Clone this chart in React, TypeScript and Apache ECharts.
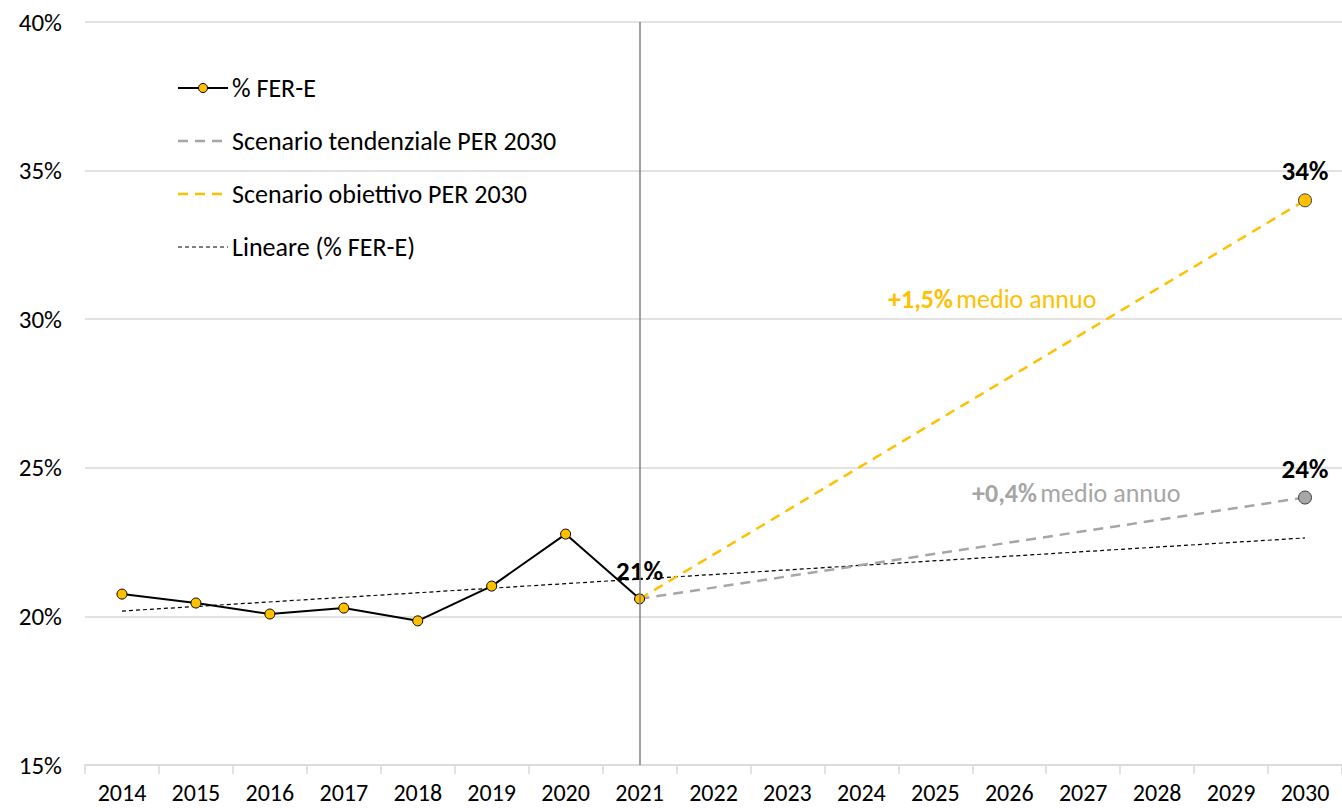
import React, { useEffect, useRef } from "react";
import * as echarts from "echarts";

const years = ["2014","2015","2016","2017","2018","2019","2020","2021","2022","2023","2024","2025","2026","2027","2028","2029","2030"];
const ferE = [20.75, 20.45, 20.08, 20.28, 19.85, 21.02, 22.77, 20.59];
const tendYears = ["2021", "2030"];
const tendValues = [20.59, 24.0];
const objYears = ["2021", "2030"];
const objValues = [20.59, 34.0];
const trendYears = ["2014", "2030"];
const trendValues = [20.18, 22.64];
const yTicks = { min: 15, max: 40, interval: 5 };
const legendNames = ["% FER-E", "Scenario tendenziale PER 2030", "Scenario obiettivo PER 2030", "Lineare (% FER-E)"];

const FONT = "Carlito, Lato, 'Noto Sans', sans-serif";
const YELLOW = "#FFC000";
const GRAY = "#A6A6A6";

export default function App() {
  const ref = useRef<HTMLDivElement>(null);
  useEffect(() => {
    document.body.style.margin = "0";
    const chart = echarts.init(ref.current!, null, { renderer: "svg" });
    const lastIdx = ferE.length - 1;
    const labelBold = { fontSize: 27, fontWeight: "bold", color: "#000", fontFamily: FONT };

    const legendStyles = [
      { stroke: "#000", lineWidth: 2, lineDash: null as any, marker: true },
      { stroke: GRAY, lineWidth: 2.5, lineDash: [10, 7], marker: false },
      { stroke: YELLOW, lineWidth: 2.5, lineDash: [10, 7], marker: false },
      { stroke: "#000", lineWidth: 1.2, lineDash: [4, 3], marker: false },
    ];
    const legendGraphics: any[] = [];
    legendNames.forEach((name, i) => {
      const y = 88 + i * 53;
      const s = legendStyles[i];
      legendGraphics.push({
        type: "line",
        shape: { x1: 178, y1: y, x2: 228, y2: y },
        style: { stroke: s.stroke, lineWidth: s.lineWidth, lineDash: s.lineDash || undefined },
        silent: true,
      });
      if (s.marker) {
        legendGraphics.push({
          type: "circle",
          shape: { cx: 203, cy: y, r: 4.5 },
          style: { fill: YELLOW, stroke: "#000", lineWidth: 1 },
          silent: true,
        });
      }
      legendGraphics.push({
        type: "text",
        x: 232,
        y: y,
        style: { text: name, fontSize: 26, fontFamily: FONT, fill: "#000", verticalAlign: "middle", align: "left" },
        silent: true,
      });
    });

    chart.setOption({
      animation: false,
      textStyle: { fontFamily: FONT },
      grid: { left: 85, top: 22, width: 1261, height: 743, containLabel: false },
      xAxis: {
        type: "category",
        data: years,
        boundaryGap: true,
        axisLine: { lineStyle: { color: "#D9D9D9", width: 1.5 } },
        axisTick: { show: true, length: 9, lineStyle: { color: "#D9D9D9", width: 1.5 } },
        axisLabel: { color: "#000", fontSize: 24, margin: 15, fontFamily: FONT },
        splitLine: { show: false },
      },
      yAxis: {
        type: "value",
        min: yTicks.min,
        max: yTicks.max,
        interval: yTicks.interval,
        axisLine: { show: false },
        axisTick: { show: false },
        axisLabel: { color: "#000", fontSize: 25, margin: 23, fontFamily: FONT, formatter: "{value}%" },
        splitLine: { lineStyle: { color: "#D9D9D9", width: 1.5 } },
      },
      series: [
        {
          name: legendNames[3],
          type: "line",
          data: trendYears.map((y, i) => [y, trendValues[i]]),
          symbol: "none",
          lineStyle: { color: "#000", width: 1.2, type: [4, 3] },
          itemStyle: { color: "#000" },
          z: 2,
        },
        {
          name: legendNames[1],
          type: "line",
          symbol: "none",
          showSymbol: true,
          data: tendYears.map((y, i) =>
            i === tendYears.length - 1
              ? {
                  value: [y, tendValues[i]],
                  symbol: "circle",
                  symbolSize: 13,
                  itemStyle: { color: GRAY, borderColor: "#404040", borderWidth: 1 },
                  label: { show: true, position: "top", distance: 9, formatter: "24%", ...labelBold },
                }
              : [y, tendValues[i]]
          ),
          lineStyle: { color: GRAY, width: 2.5, type: [10, 7] },
          itemStyle: { color: GRAY },
          z: 3,
        },
        {
          name: legendNames[2],
          type: "line",
          symbol: "none",
          showSymbol: true,
          data: objYears.map((y, i) =>
            i === objYears.length - 1
              ? {
                  value: [y, objValues[i]],
                  symbol: "circle",
                  symbolSize: 13,
                  itemStyle: { color: YELLOW, borderColor: "#404040", borderWidth: 1 },
                  label: { show: true, position: "top", distance: 9, formatter: "34%", ...labelBold },
                }
              : [y, objValues[i]]
          ),
          lineStyle: { color: YELLOW, width: 2.5, type: [10, 7] },
          itemStyle: { color: YELLOW },
          z: 3,
        },
        {
          name: legendNames[0],
          type: "line",
          symbol: "circle",
          symbolSize: 10,
          data: ferE.map((v, i) =>
            i === lastIdx
              ? { value: v, label: { show: true, position: "top", distance: 9, formatter: "21%", ...labelBold } }
              : v
          ),
          lineStyle: { color: "#000", width: 2 },
          itemStyle: { color: YELLOW, borderColor: "#000", borderWidth: 1 },
          markLine: {
            silent: true,
            symbol: "none",
            label: { show: false },
            lineStyle: { color: "#808080", type: "solid", width: 1.5 },
            data: [{ xAxis: "2021" }],
          },
          z: 4,
        },
      ],
      graphic: [
        ...legendGraphics,
        {
          type: "text",
          x: 888,
          y: 299,
          style: {
            text: "{b|+1,5%} {n|medio annuo}",
            verticalAlign: "middle",
            rich: {
              b: { fontSize: 26, fontWeight: "bold", fill: YELLOW, fontFamily: FONT },
              n: { fontSize: 26, fill: YELLOW, fontFamily: FONT },
            },
          },
        },
        {
          type: "text",
          x: 972,
          y: 493,
          style: {
            text: "{b|+0,4%} {n|medio annuo}",
            verticalAlign: "middle",
            rich: {
              b: { fontSize: 26, fontWeight: "bold", fill: GRAY, fontFamily: FONT },
              n: { fontSize: 26, fill: GRAY, fontFamily: FONT },
            },
          },
        },
      ],
    });
    return () => chart.dispose();
  }, []);
  return <div ref={ref} style={{ width: 1342, height: 808 }} />;
}
